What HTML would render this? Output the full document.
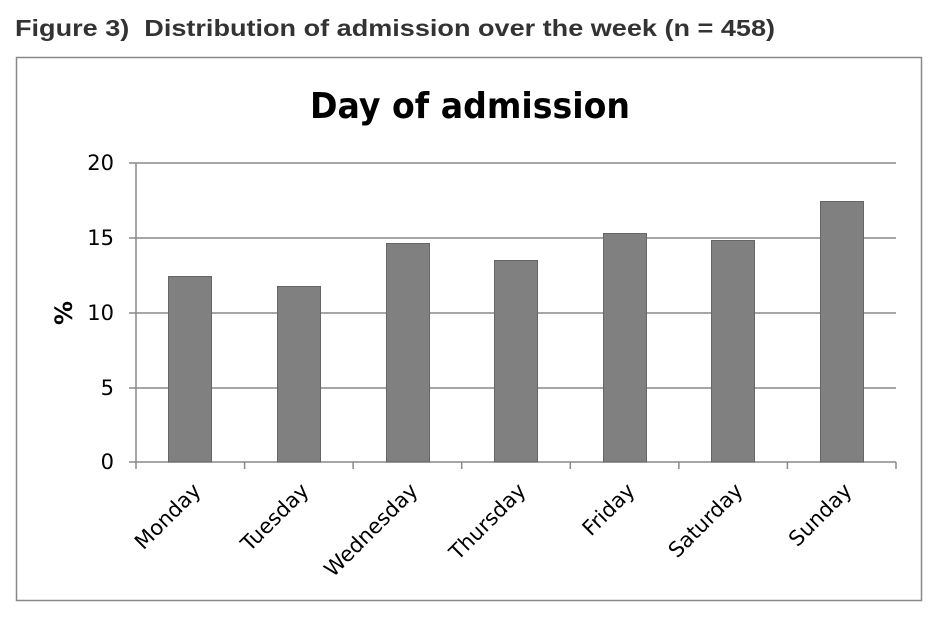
<!DOCTYPE html>
<html><head><meta charset="utf-8"><style>
html,body{margin:0;padding:0;background:#fff;}
</style></head><body>
<svg width="940" height="620" xmlns="http://www.w3.org/2000/svg" font-family="'Liberation Sans',sans-serif">
<text x="15" y="36" font-size="23" font-weight="bold" fill="#333" textLength="760" lengthAdjust="spacingAndGlyphs" xml:space="preserve">Figure 3)  Distribution of admission over the week (n = 458)</text>
<rect x="16.5" y="57.5" width="905" height="543" fill="#fff" stroke="#888" stroke-width="1.5"/>
<text x="310" y="118" font-size="36" font-weight="bold" font-family="'DejaVu Sans',sans-serif" fill="#000" textLength="320" lengthAdjust="spacingAndGlyphs">Day of admission</text>
<g stroke="#888" stroke-width="1.5">
<line x1="129" y1="163" x2="896" y2="163"/>
<line x1="129" y1="238" x2="896" y2="238"/>
<line x1="129" y1="313" x2="896" y2="313"/>
<line x1="129" y1="388" x2="896" y2="388"/>
<line x1="129" y1="462" x2="896" y2="462"/>
<line x1="136" y1="163" x2="136" y2="469"/>
<line x1="244.6" y1="462" x2="244.6" y2="469"/>
<line x1="353.1" y1="462" x2="353.1" y2="469"/>
<line x1="461.7" y1="462" x2="461.7" y2="469"/>
<line x1="570.3" y1="462" x2="570.3" y2="469"/>
<line x1="678.9" y1="462" x2="678.9" y2="469"/>
<line x1="787.4" y1="462" x2="787.4" y2="469"/>
<line x1="896" y1="462" x2="896" y2="469"/>
</g>
<g fill="#808080" stroke="#666" stroke-width="1">
<rect x="168.5" y="276.5" width="43" height="185.5"/>
<rect x="277.5" y="286.5" width="43" height="175.5"/>
<rect x="386.5" y="243.5" width="43" height="218.5"/>
<rect x="494.5" y="260.5" width="43" height="201.5"/>
<rect x="603.5" y="233.5" width="43" height="228.5"/>
<rect x="711.5" y="240.5" width="43" height="221.5"/>
<rect x="820.5" y="201.5" width="43" height="260.5"/>
</g>
<g font-size="21" font-family="'DejaVu Sans',sans-serif" text-anchor="end" fill="#000">
<text x="114" y="170">20</text>
<text x="114" y="245">15</text>
<text x="114" y="320">10</text>
<text x="114" y="395">5</text>
<text x="114" y="469">0</text>
</g>
<text transform="translate(72,313) rotate(-90)" font-size="24" font-weight="bold" text-anchor="middle" font-family="'DejaVu Sans',sans-serif">%</text>
<g font-size="21" font-family="'DejaVu Sans',sans-serif" text-anchor="end" fill="#000">
<text transform="translate(202,492) rotate(-45)">Monday</text>
<text transform="translate(310,492) rotate(-45)">Tuesday</text>
<text transform="translate(419,492) rotate(-45)">Wednesday</text>
<text transform="translate(527,492) rotate(-45)">Thursday</text>
<text transform="translate(636,492) rotate(-45)">Friday</text>
<text transform="translate(744,492) rotate(-45)">Saturday</text>
<text transform="translate(853,492) rotate(-45)">Sunday</text>
</g>
</svg>
</body></html>
